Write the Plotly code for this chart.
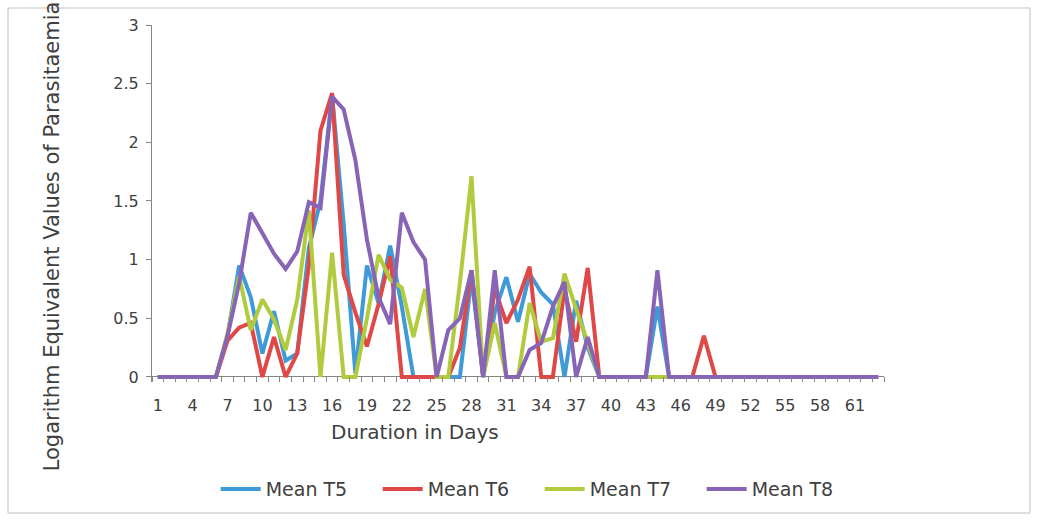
import plotly.graph_objects as go

days = list(range(1, 64))

mean_t5 = [0, 0, 0, 0, 0, 0, 0.35, 0.95, 0.68, 0.2, 0.56, 0.14, 0.2, 1.1, 1.5, 2.4,
           1.3, 0.03, 0.95, 0.63, 1.12, 0.6, 0, 0, 0, 0, 0, 0.85, 0, 0.55, 0.85, 0.47,
           0.88, 0.72, 0.62, 0, 0.65, 0.25, 0, 0, 0, 0, 0, 0.6] + [0] * 19
mean_t6 = [0, 0, 0, 0, 0, 0, 0.31, 0.42, 0.46, 0, 0.34, 0, 0.2, 0.95, 2.1, 2.42,
           0.87, 0.55, 0.26, 0.62, 1.03, 0, 0, 0, 0, 0, 0.25, 0.91, 0, 0.75, 0.46, 0.66,
           0.94, 0, 0, 0.75, 0.3, 0.93, 0, 0, 0, 0, 0, 0, 0, 0, 0, 0.35] + [0] * 15
mean_t7 = [0, 0, 0, 0, 0, 0, 0.37, 0.86, 0.4, 0.66, 0.49, 0.23, 0.66, 1.42, 0, 1.06,
           0, 0, 0.5, 1.04, 0.83, 0.76, 0.34, 0.75, 0, 0, 0.8, 1.71, 0, 0.46, 0, 0,
           0.63, 0.3, 0.33, 0.88, 0.58, 0.29] + [0] * 25
mean_t8 = [0, 0, 0, 0, 0, 0, 0.35, 0.8, 1.4, 1.22, 1.05, 0.92, 1.07, 1.49, 1.44, 2.39,
           2.28, 1.85, 1.17, 0.68, 0.45, 1.4, 1.15, 1.0, 0, 0.4, 0.5, 0.91, 0, 0.91, 0, 0,
           0.23, 0.29, 0.6, 0.81, 0, 0.34, 0, 0, 0, 0, 0, 0.91] + [0] * 19

series_names = ["Mean T5", "Mean T6", "Mean T7", "Mean T8"]
series_values = [mean_t5, mean_t6, mean_t7, mean_t8]
colors = ["#3F9AD8", "#E04848", "#B0CC3E", "#8864B6"]

x_tick_vals = list(range(1, 64, 3))
x_tick_text = [str(v) for v in x_tick_vals]
y_tick_vals = [0, 0.5, 1, 1.5, 2, 2.5, 3]
y_tick_text = ["0", "0.5", "1", "1.5", "2", "2.5", "3"]

FONT = "DejaVu Sans"
TXT = "#404040"
AX = "#868686"

fig = go.Figure()
for name, vals, col in zip(series_names, series_values, colors):
    fig.add_trace(go.Scatter(x=days, y=vals, mode="lines", name=name,
                             line=dict(color=col, width=4)))

fig.update_layout(
    width=1037, height=520,
    margin=dict(l=152, r=153, t=25, b=138),
    paper_bgcolor="white", plot_bgcolor="white",
    font=dict(family=FONT, color=TXT, size=16),
    showlegend=True,
    legend=dict(orientation="h", x=0.087, xanchor="left", y=-0.30, yanchor="middle",
                font=dict(size=19, color=TXT, family=FONT), itemwidth=40, tracegroupgap=0,
                entrywidth=107, entrywidthmode="pixels"),
    xaxis=dict(range=[0.5, 63.5], tickmode="array", tickvals=x_tick_vals, ticktext=x_tick_text,
               ticks="", showline=False, showgrid=False, zeroline=False,
               tickfont=dict(size=16, color=TXT), ticklabelstandoff=12,
               minor=dict(tickmode="array", tickvals=[v + 0.5 for v in range(0, 64)],
                          ticks="inside", ticklen=5, tickcolor=AX, tickwidth=1, showgrid=False)),
    yaxis=dict(range=[-0.043, 3], tickmode="array", tickvals=y_tick_vals, ticktext=y_tick_text,
               ticks="outside", ticklen=5, tickcolor=AX, showline=True, linecolor=AX, linewidth=1,
               showgrid=False, zeroline=True, zerolinecolor=AX, zerolinewidth=1,
               tickfont=dict(size=16, color=TXT), ticklabelstandoff=4),
    annotations=[
        dict(text="Logarithm Equivalent Values of Parasitaemia", xref="paper", yref="paper",
             x=-0.1366, y=0.408, xanchor="center", yanchor="middle", textangle=-90,
             showarrow=False, font=dict(size=21, color=TXT, family=FONT)),
        dict(text="Duration in Days", xref="paper", yref="paper", x=0.359, y=-0.14,
             xanchor="center", yanchor="middle", showarrow=False,
             font=dict(size=20, color=TXT, family=FONT)),
    ],
    shapes=[dict(type="rect", xref="paper", yref="paper", x0=-0.1967, x1=1.1995,
                 y0=-0.367, y1=1.0476, line=dict(color="#BFBFBF", width=1), layer="below")],
)

fig.write_html("out.html", config={"displayModeBar": False},
               post_script="document.body.style.margin='0';")
